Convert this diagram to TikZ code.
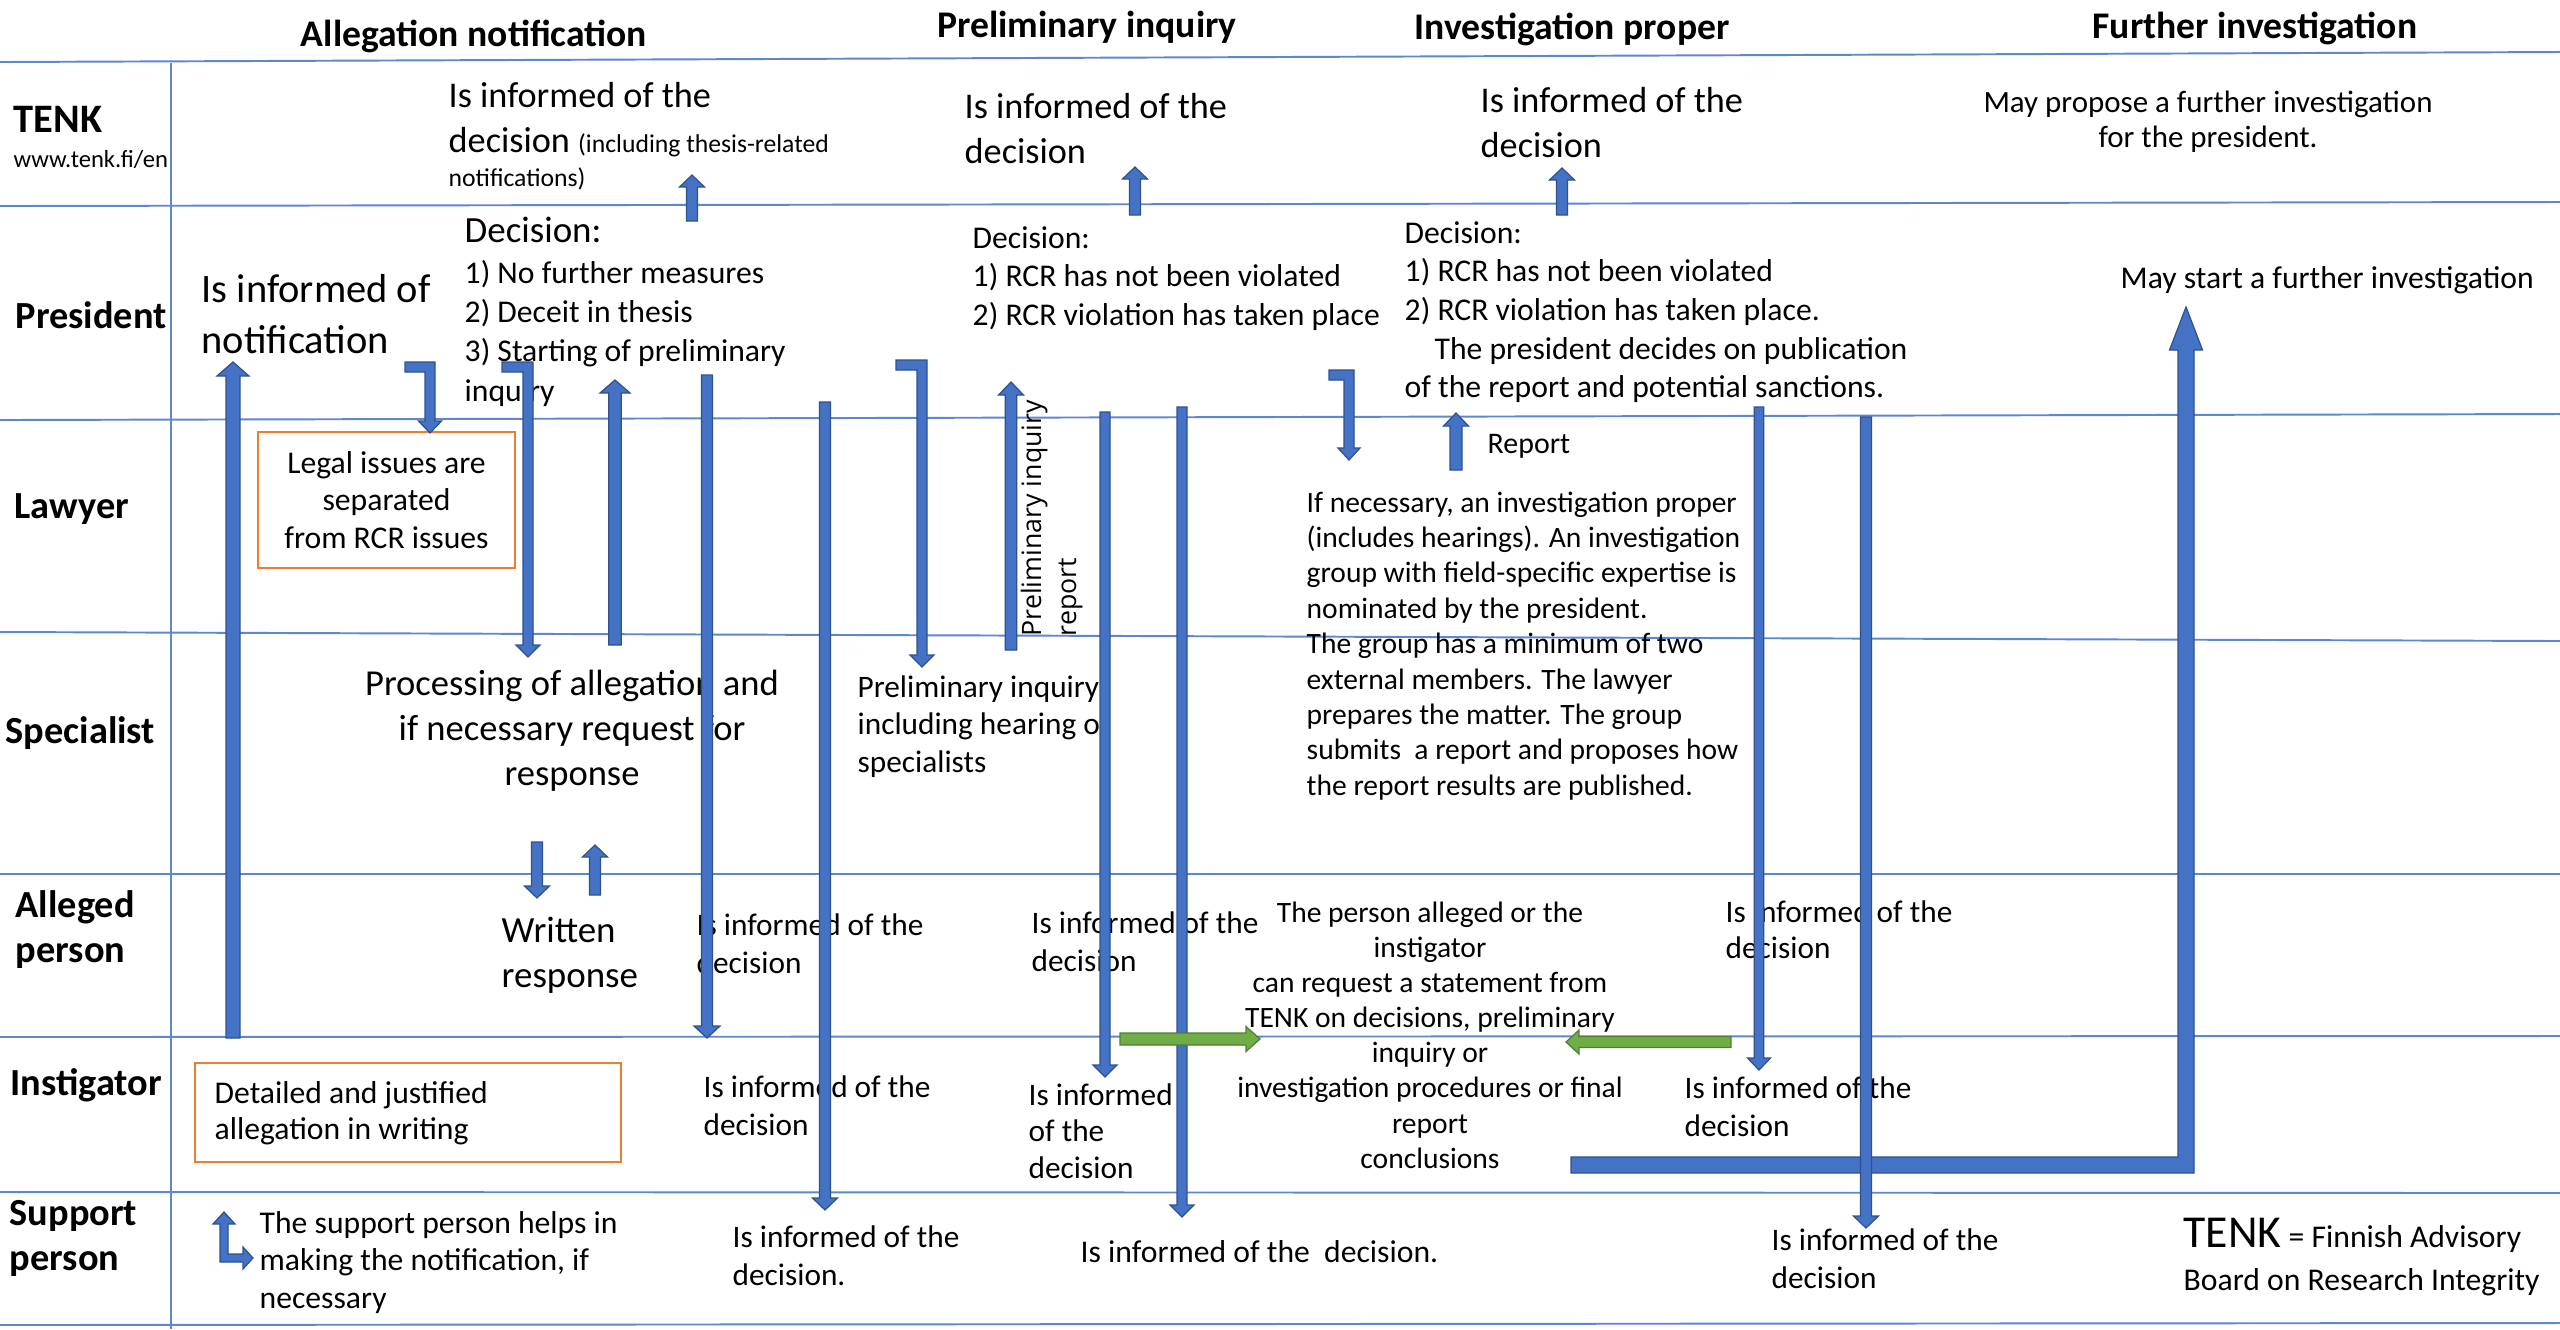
\documentclass[tikz,border=0pt]{standalone}
\usepackage{fontspec}
\setmainfont{Carlito}
\newfontfamily\osans{Open Sans}
\definecolor{lineblue}{RGB}{94,135,210}
\definecolor{arrblue}{RGB}{68,114,196}
\definecolor{arrdark}{RGB}{47,82,143}
\definecolor{agreen}{RGB}{112,173,71}
\definecolor{agreendark}{RGB}{80,126,50}
\definecolor{borange}{RGB}{237,125,49}
\newcommand{\linesL}[1]{\begin{tabular}[t]{@{}l@{}}#1\end{tabular}}
\newcommand{\linesC}[1]{\begin{tabular}[t]{@{}c@{}}#1\end{tabular}}
\tikzset{
 gridline/.style={draw=lineblue, line width=0.55pt},
 barr/.style={fill=arrblue, draw=arrdark, line width=0.35pt, line join=miter},
 garr/.style={fill=agreen, draw=agreendark, line width=0.35pt, line join=miter},
 lbl/.style={anchor=base west, inner sep=0pt, font=\bfseries\fontsize{10.9}{12.8}\selectfont},
 hdr/.style={anchor=base, inner sep=0pt, font=\bfseries\fontsize{10.7}{13}\selectfont},
 txt/.style={anchor=base west, inner sep=0pt},
 ctxt/.style={anchor=base, inner sep=0pt},
 obox/.style={draw=borange, line width=0.6pt, inner sep=0pt},
 infofont/.style={font=\fontsize{8.9}{10.8}\selectfont},
}
\newcommand{\VArrow}[7][barr]{%
  \pgfmathsetmacro\vaB{#4-sign(#4-#3)*#7}%
  \path[#1] ({#2-#5/2},#3) -- ({#2-#5/2},\vaB) -- ({#2-#6/2},\vaB) -- (#2,#4) -- ({#2+#6/2},\vaB) -- ({#2+#5/2},\vaB) -- ({#2+#5/2},#3) -- cycle;}
\newcommand{\HArrow}[7][barr]{%
  \pgfmathsetmacro\haB{#4-sign(#4-#3)*#7}%
  \path[#1] (#3,{#2-#5/2}) -- (\haB,{#2-#5/2}) -- (\haB,{#2-#6/2}) -- (#4,#2) -- (\haB,{#2+#6/2}) -- (\haB,{#2+#5/2}) -- (#3,{#2+#5/2}) -- cycle;}
\newcommand{\BArrow}[7]{%
  \pgfmathsetmacro\baB{#4-#7}%
  \path[barr] (#1,{#2-#5/2}) -- ({#3+#5/2},{#2-#5/2}) -- ({#3+#5/2},\baB) -- ({#3+#6/2},\baB) -- (#3,#4) -- ({#3-#6/2},\baB) -- ({#3-#5/2},\baB) -- ({#3-#5/2},{#2+#5/2}) -- (#1,{#2+#5/2}) -- cycle;}
\begin{document}
\begin{tikzpicture}[x=0.01cm, y=-0.01cm]
\useasboundingbox (0,0) rectangle (2560,1329);
\fill[white] (0,0) rectangle (2560,1329);
% grid
\draw[gridline] (0,62) -- (2560,52);
\draw[gridline] (0,206) -- (2560,202);
\draw[gridline] (0,420) -- (2560,414);
\draw[gridline] (0,632) -- (2560,641);
\draw[gridline] (0,874) -- (2560,874);
\draw[gridline] (0,1037) -- (2560,1036);
\draw[gridline] (0,1192) -- (2560,1193);
\draw[gridline] (0,1325) -- (2560,1323);
\draw[gridline] (171,63) -- (171,1329);
% headers
\node[hdr] (hA) at (474,46) {Allegation notification};
\node[hdr] (hP) at (1087,37) {Preliminary inquiry};
\node[hdr] (hI) at (1572,39) {Investigation proper};
\node[hdr] (hF) at (2255,38) {Further investigation};
% row labels
\node[lbl, font=\bfseries\fontsize{11.5}{13}\selectfont] (rT) at (13,132) {TENK};
\node[txt, font=\fontsize{7}{8}\selectfont] (url) at (13,167) {www.tenk.fi/en};
\node[lbl] (rP) at (15,328) {President};
\node[lbl] (rL) at (14,518) {Lawyer};
\node[lbl] (rS) at (5,743) {Specialist};
\node[lbl] (rA) at (15,917) {\linesL{Alleged\\person}};
\node[lbl] (rI) at (10,1095) {Instigator};
\node[lbl] (rSp) at (9,1225) {\linesL{Support\\person}};
% TENK row
\node[txt, font=\fontsize{10.3}{12.8}\selectfont] (tA) at (448,107) {\linesL{Is informed of the\\decision {\fontsize{7.3}{9}\selectfont (including thesis-related}}};
\node[txt, font=\fontsize{7.3}{9}\selectfont] (tA2) at (448,186) {notifications)};
\node[txt, font=\fontsize{10.3}{12.8}\selectfont] (tP) at (964,118) {\linesL{Is informed of the\\decision}};
\node[txt, font=\fontsize{10.3}{12.8}\selectfont] (tI) at (1480,112) {\linesL{Is informed of the\\decision}};
\node[ctxt, font=\fontsize{8.8}{10.2}\selectfont] (tF) at (2208,112) {\linesC{May propose a further investigation\\for the president.}};
% President row
\node[txt, font=\fontsize{11.5}{14.5}\selectfont] (pA) at (201,302) {\linesL{Is informed of\\notification}};
\node[txt, font=\fontsize{10.5}{12}\selectfont] (pDh) at (464,242) {Decision:};
\node[txt, font=\fontsize{9}{11.2}\selectfont] (pD) at (464,283) {\linesL{1) No further measures\\2) Deceit in thesis\\3) Starting of preliminary\\inquiry}};
\node[txt, font=\fontsize{9}{11}\selectfont] (pP) at (972,248) {\linesL{Decision:\\1) RCR has not been violated\\2) RCR violation has taken place}};
\node[txt, font=\fontsize{9}{11}\selectfont] (pI) at (1404,243) {\linesL{Decision:\\1) RCR has not been violated\\2) RCR violation has taken place.\\\hspace*{8.5pt}The president decides on publication\\of the report and potential sanctions.}};
\node[txt, font=\fontsize{9}{11}\selectfont] (pF) at (2120,288) {May start a further investigation};
% Lawyer row
\node[obox, minimum width=2.57cm, minimum height=1.36cm, align=center, font=\fontsize{9}{10.7}\selectfont] (legal) at (386.5,500) {Legal issues are\\separated\\from RCR issues};
\node[txt, font=\fontsize{8.5}{10}\selectfont] (rep) at (1487,453) {Report};
\node[rotate=90, anchor=base west, inner sep=0pt, font=\osans\fontsize{7.6}{10}\selectfont] (prirep) at (1041,637) {\linesL{Preliminary inquiry\\report}};
\node[txt, font=\fontsize{8.4}{10.07}\selectfont] (invtxt) at (1306,512) {\linesL{If necessary, an investigation proper\\(includes hearings). An investigation\\group with field-specific expertise is\\nominated by the president.\\The group has a minimum of two\\external members. The lawyer\\prepares the matter. The group\\submits\ \ a report and proposes how\\the report results are published.}};
% Specialist row
\node[ctxt, font=\fontsize{10.4}{12.8}\selectfont] (proc) at (572,695) {\linesC{Processing of allegation and\\if necessary request for\\response}};
\node[txt, font=\fontsize{8.9}{10.7}\selectfont] (prel) at (857,697) {\linesL{Preliminary inquiry\\including hearing of\\specialists}};
% Alleged person row
\node[txt, font=\fontsize{10.5}{12.8}\selectfont] (wr) at (501,942) {\linesL{Written\\response}};
\node[txt, infofont] (aA) at (696,935) {\linesL{Is informed of the\\decision}};
\node[txt, infofont] (aP) at (1031,933) {\linesL{Is informed of the\\decision}};
\node[txt, font=\fontsize{8.9}{10.3}\selectfont] (aI) at (1725,922) {\linesL{Is informed of the\\decision}};
\node[ctxt, font=\fontsize{8.4}{10}\selectfont] (stmt) at (1430,922) {\linesC{The person alleged or the\\instigator\\can request a statement from\\TENK on decisions, preliminary\\inquiry or\\investigation procedures or final\\report\\conclusions}};
% Instigator row
\node[obox, minimum width=4.26cm, minimum height=0.99cm] (detbox) at (408,1112.5) {};
\node[txt, font=\fontsize{9}{10.5}\selectfont] (det) at (214,1103) {\linesL{Detailed and justified\\allegation in writing}};
\node[txt, infofont] (iA) at (703,1097) {\linesL{Is informed of the\\decision}};
\node[txt, font=\fontsize{8.9}{10.5}\selectfont] (iP) at (1028,1105) {\linesL{Is informed\\of the\\decision}};
\node[txt, infofont] (iI) at (1684,1098) {\linesL{Is informed of the\\decision}};
% Support row
\node[txt, font=\fontsize{9}{10.7}\selectfont] (sA) at (259,1233) {\linesL{The support person helps in\\making the notification, if\\necessary}};
\node[txt, infofont] (sB) at (732,1247) {\linesL{Is informed of the\\decision.}};
\node[txt, font=\fontsize{9}{11}\selectfont] (sC) at (1080,1262) {Is informed of the\ \ decision.};
\node[txt, infofont] (sD) at (1771,1250) {\linesL{Is informed of the\\decision}};
\node[txt, font=\fontsize{9}{11}\selectfont] (leg1) at (2183,1247) {{\fontsize{13}{14}\selectfont TENK} = Finnish Advisory};
\node[txt, font=\fontsize{9}{11}\selectfont] (leg2) at (2183,1290) {Board on Research Integrity};
% big bent arrow (instigator -> president)
\path[barr] (1571,1157) -- (2178,1157) -- (2178,350) -- (2169.5,350) -- (2186,307) -- (2202.5,350) -- (2194,350) -- (2194,1173) -- (1571,1173) -- cycle;
% vertical arrows
\VArrow{233}{1038}{362}{14}{32}{14}
\VArrow{692}{221}{175}{11}{25}{12}
\VArrow{1135}{215}{167}{11}{25}{12}
\VArrow{1562}{215}{168}{11}{25}{12}
\VArrow{615}{645}{380}{12.5}{30}{13}
\VArrow{707}{375}{1038}{11}{26}{12}
\VArrow{825}{402}{1210}{11}{25}{12}
\VArrow{1011}{650}{382}{11.5}{25}{13}
\VArrow{1105}{412}{1077}{10}{24}{12}
\VArrow{1182}{407}{1217}{10}{24}{12}
\VArrow{1456}{470}{413}{12}{25}{13}
\VArrow{1759}{407}{1070}{9.5}{23}{12}
\VArrow{1866}{417}{1228}{11}{25}{12}
\VArrow{537}{842}{898}{11}{25}{12}
\VArrow{595}{895}{845}{11}{25}{12}
% bent arrows
\BArrow{405}{367}{430}{433}{10}{23}{12}
\BArrow{502}{367}{528}{657}{10}{24}{12}
\BArrow{896}{365}{922}{667}{10}{24}{12}
\BArrow{1329}{375}{1349}{460}{10}{22}{12}
% support elbow arrow
\path[barr] (213,1224) -- (224,1212) -- (235,1224) -- (228,1224) -- (228,1254) -- (243,1254) -- (243,1247) -- (253,1258) -- (243,1269) -- (243,1262) -- (220,1262) -- (220,1224) -- cycle;
% green arrows
\HArrow[garr]{1039}{1120}{1260}{12}{25}{14}
\HArrow[garr]{1042}{1731}{1566}{11}{24}{13}
\end{tikzpicture}
\end{document}
